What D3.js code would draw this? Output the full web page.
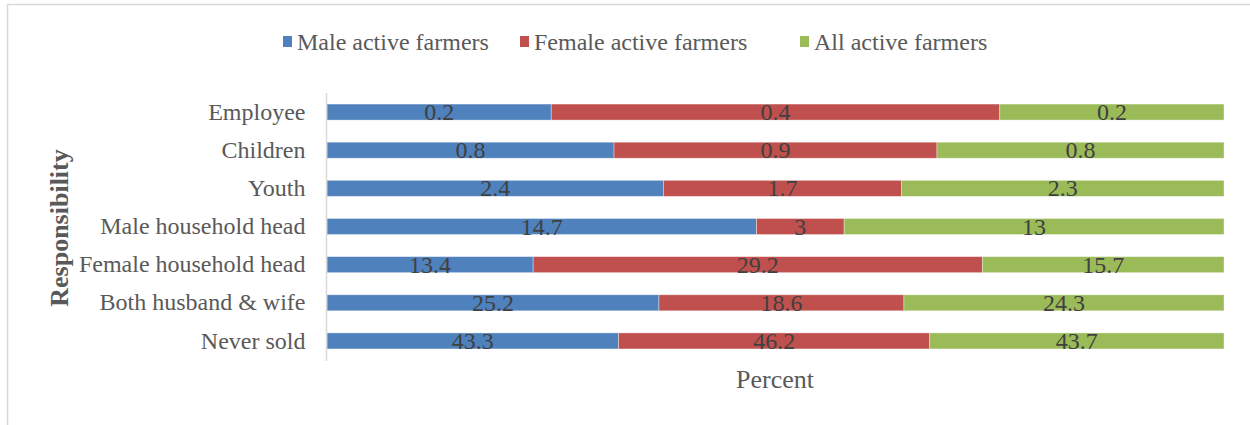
<!DOCTYPE html>
<html>
<head>
<meta charset="utf-8">
<script src="https://cdn.jsdelivr.net/npm/d3@7/dist/d3.min.js"></script>
<style>
  html, body { margin: 0; padding: 0; background: #fff; }
  svg { display: block; }
  svg text { font-family: "Liberation Serif", "Times New Roman", serif !important; }
</style>
</head>
<body>
<svg id="chart" width="1250" height="425"></svg>
<script>
// Who is responsible for selling, by group of active farmers (percent)
const categories = ["Employee", "Children", "Youth", "Male household head",
  "Female household head", "Both husband & wife", "Never sold"];
const seriesNames = ["Male active farmers", "Female active farmers", "All active farmers"];
const maleValues   = [0.2, 0.8, 2.4, 14.7, 13.4, 25.2, 43.3];
const femaleValues = [0.4, 0.9, 1.7, 3, 29.2, 18.6, 46.2];
const allValues    = [0.2, 0.8, 2.3, 13, 15.7, 24.3, 43.7];
const colors = ["#4F81BD", "#C0504D", "#9BBB59"];

const SERIF = "'Liberation Serif', 'Times New Roman', serif";
const svg = d3.select("#chart").style("font-family", SERIF);
const W = 1250, H = 425;
const margin = { left: 327, right: 26, top: 93, bottom: 65 };

// outer chart frame
svg.append("rect")
  .attr("x", 7.5).attr("y", 4.5)
  .attr("width", W + 20).attr("height", H + 20)
  .attr("fill", "#fff").attr("stroke", "#D9D9D9").attr("stroke-width", 1.5);

const rows = categories.map((c, i) => ({
  category: c,
  [seriesNames[0]]: maleValues[i],
  [seriesNames[1]]: femaleValues[i],
  [seriesNames[2]]: allValues[i]
}));

const stacked = d3.stack().keys(seriesNames).offset(d3.stackOffsetExpand)(rows);

const x = d3.scaleLinear().domain([0, 1]).range([margin.left, W - margin.right]);
const y = d3.scaleBand().domain(categories)
  .range([margin.top, H - margin.bottom]).paddingInner(0.58).paddingOuter(0.29);
const color = d3.scaleOrdinal().domain(seriesNames).range(colors);

// bars
const layer = svg.append("g").selectAll("g").data(stacked).join("g")
  .attr("fill", d => color(d.key));
layer.selectAll("rect").data(d => d).join("rect")
  .attr("x", d => x(d[0]))
  .attr("y", d => y(d.data.category))
  .attr("width", d => x(d[1]) - x(d[0]))
  .attr("height", y.bandwidth())
  .attr("stroke", "#fff").attr("stroke-opacity", 0.45).attr("stroke-width", 0.8);

// value labels
const labels = svg.append("g");
stacked.forEach(s => {
  labels.selectAll(null).data(s).join("text")
    .attr("x", d => (x(d[0]) + x(d[1])) / 2)
    .attr("y", d => y(d.data.category) + y.bandwidth() / 2 + 8)
    .attr("text-anchor", "middle")
    .style("font-family", SERIF)
    .attr("font-size", 24)
    .attr("fill", "#404040")
    .text(d => d.data[s.key]);
});

// category axis
const yAxis = svg.append("g")
  .attr("transform", `translate(${margin.left - 0.5},0)`)
  .call(d3.axisLeft(y).tickSize(0).tickPadding(21));
yAxis.attr("font-family", null);
yAxis.select(".domain").attr("stroke", "#D9D9D9").attr("stroke-width", 1.5)
  .attr("d", `M0,${margin.top}V${H - margin.bottom + 1}`);
yAxis.selectAll(".tick text")
  .attr("font-size", 24).attr("fill", "#595959")
  .style("font-family", SERIF)
  .attr("dy", "0.32em");

// axis titles
svg.append("text")
  .attr("transform", `translate(68,228) rotate(-90)`)
  .attr("text-anchor", "middle")
  .style("font-family", SERIF)
  .attr("font-size", 26).attr("font-weight", "bold").attr("fill", "#595959")
  .text("Responsibility");

svg.append("text")
  .attr("x", 775).attr("y", 388)
  .attr("text-anchor", "middle")
  .style("font-family", SERIF)
  .attr("font-size", 26).attr("fill", "#595959")
  .text("Percent");

// legend
const legendX = [283, 520, 800];
const legend = svg.append("g");
seriesNames.forEach((name, i) => {
  const g = legend.append("g").attr("transform", `translate(${legendX[i]},36)`);
  g.append("rect").attr("width", 9).attr("height", 11).attr("fill", colors[i]);
  g.append("text").attr("x", 14).attr("y", 14)
    .style("font-family", SERIF)
    .attr("font-size", 24).attr("fill", "#595959")
    .text(name);
});
</script>
</body>
</html>
